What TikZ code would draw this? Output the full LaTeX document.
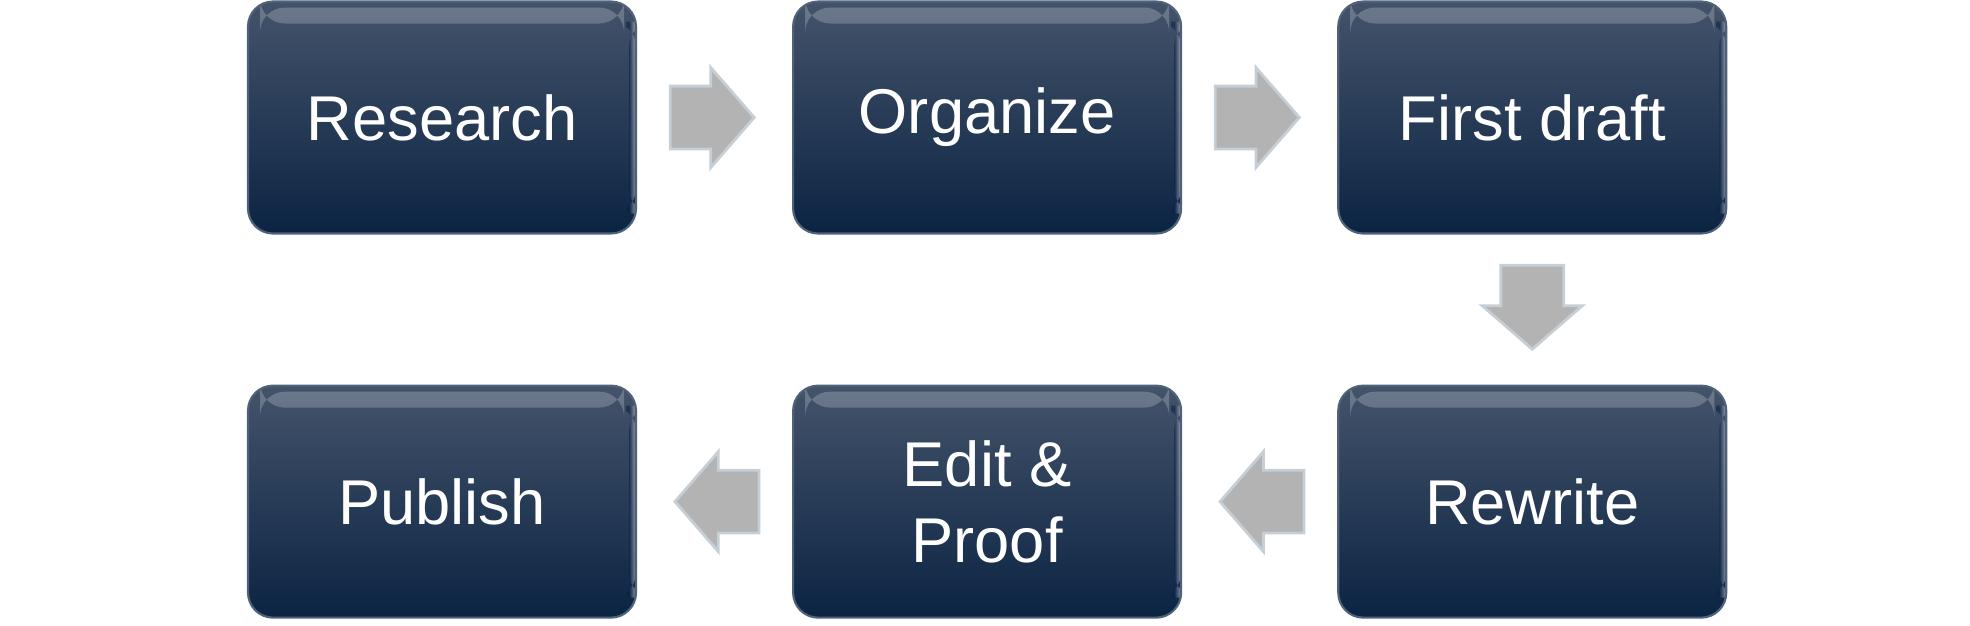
\documentclass[tikz,border=0pt]{standalone}
\usepackage{fontspec}
\setmainfont{Liberation Sans}
\usetikzlibrary{shapes.arrows,positioning,calc}

\definecolor{boxtop}{HTML}{44536A}
\definecolor{boxbot}{HTML}{0B2443}
\definecolor{boxedge}{HTML}{4F627A}
\definecolor{glosstop}{HTML}{8E9AA8}
\definecolor{arrowgray}{HTML}{B3B3B3}
\definecolor{arrowedge}{HTML}{C6CED6}

\begin{document}
\begin{tikzpicture}[
    stepbox/.style={draw=boxedge, line width=0.6pt, rounded corners=0.25cm, minimum width=3.88cm, minimum height=2.32cm,
        align=center, text=white, font=\fontsize{18}{21.5}\selectfont,
        top color=boxtop, middle color=boxbot, bottom color=boxbot,
        path picture={
            \shade[top color=glosstop, bottom color=boxtop, opacity=0.55]
                ([xshift=0.12cm, yshift=-0.06cm]path picture bounding box.north west) rectangle
                ([xshift=-0.12cm, yshift=-0.22cm]path picture bounding box.north east);
            \shade[left color=boxbot, right color=white!80!boxedge, opacity=0.6]
                ([xshift=-0.07cm, yshift=-0.2cm]path picture bounding box.north east) rectangle
                ([yshift=0.2cm]path picture bounding box.south east);
        }},
    blockarrow/.style={single arrow, draw=arrowedge, fill=arrowgray, line width=0.8pt,
        inner xsep=0pt, inner ysep=0.3cm, minimum height=0.84cm, minimum width=0pt,
        single arrow head extend=0.185cm, single arrow head indent=0pt, single arrow tip angle=98},
    rightarrow/.style={blockarrow, xshift=-0.16cm},
    leftarrow/.style={blockarrow, shape border rotate=180, xshift=0.16cm},
    downarrow/.style={blockarrow, shape border rotate=270, inner xsep=0.3cm, inner ysep=0pt, yshift=0.16cm},
]

\useasboundingbox (0,0) rectangle (19.7,6.25);

% top row
\node[stepbox] (research) at (4.42,5.075) {Research};
\node[stepbox, right=1.55cm of research] (organize) {Organize};
\node[stepbox, right=1.55cm of organize] (draft) {First draft};

% bottom row, right to left
\node[stepbox, below=1.5cm of draft] (rewrite) {Rewrite};
\node[stepbox, left=1.55cm of rewrite] (edit) {Edit \&\\Proof};
\node[stepbox, left=1.55cm of edit] (publish) {Publish};

% block arrows between the steps
\node[rightarrow] (a1) at ($(research.east)!0.5!(organize.west)$) {};
\node[rightarrow] (a2) at ($(organize.east)!0.5!(draft.west)$) {};
\node[downarrow] (a3) at ($(draft.south)!0.5!(rewrite.north)$) {};
\node[leftarrow] (a4) at ($(rewrite.west)!0.5!(edit.east)$) {};
\node[leftarrow] (a5) at ($(edit.west)!0.5!(publish.east)$) {};

\end{tikzpicture}
\end{document}
